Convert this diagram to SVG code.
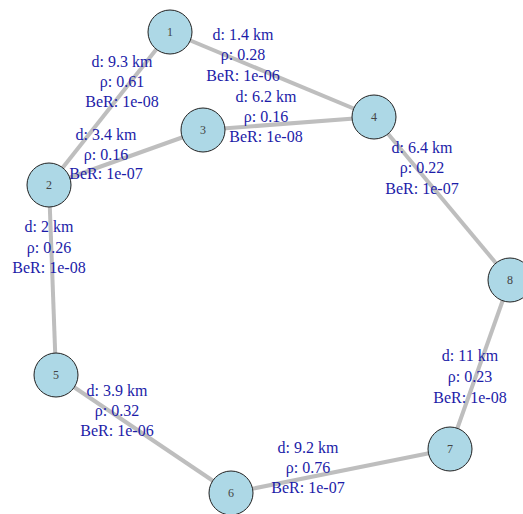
<svg xmlns="http://www.w3.org/2000/svg" width="523" height="514" viewBox="0 0 523 514">
<style>
.e{stroke:#bebebe;stroke-width:4;fill:none}
.n circle{fill:#add8e6;stroke:#222;stroke-width:1}
.n text{font-family:"Liberation Serif",serif;font-size:12px;fill:#444;text-anchor:middle}
.l{font-family:"Liberation Serif",serif;font-size:16px;fill:#1c1ca8;text-anchor:middle}
</style>
<rect width="523" height="514" fill="#fff"/>
<g id="edges">
<line class="e" x1="170" y1="32" x2="49" y2="185"/>
<line class="e" x1="170" y1="32" x2="374" y2="117"/>
<line class="e" x1="49" y1="185" x2="203" y2="130"/>
<line class="e" x1="203" y1="130" x2="374" y2="117"/>
<line class="e" x1="374" y1="117" x2="510" y2="280"/>
<line class="e" x1="49" y1="185" x2="56" y2="375"/>
<line class="e" x1="56" y1="375" x2="231" y2="493"/>
<line class="e" x1="231" y1="493" x2="450" y2="449"/>
<line class="e" x1="450" y1="449" x2="510" y2="280"/>
</g>
<g id="edge-labels">
<text class="l" x="122" y="67">d: 9.3 km<tspan x="122" y="87">ρ: 0.61</tspan><tspan x="122" y="107">BeR: 1e-08</tspan></text>
<text class="l" x="243" y="40">d: 1.4 km<tspan x="243" y="60">ρ: 0.28</tspan><tspan x="243" y="81">BeR: 1e-06</tspan></text>
<text class="l" x="266" y="102">d: 6.2 km<tspan x="266" y="122">ρ: 0.16</tspan><tspan x="266" y="142">BeR: 1e-08</tspan></text>
<text class="l" x="106" y="140">d: 3.4 km<tspan x="106" y="160">ρ: 0.16</tspan><tspan x="106" y="179">BeR: 1e-07</tspan></text>
<text class="l" x="422" y="153">d: 6.4 km<tspan x="422" y="173">ρ: 0.22</tspan><tspan x="422" y="194">BeR: 1e-07</tspan></text>
<text class="l" x="49" y="232">d: 2 km<tspan x="49" y="253">ρ: 0.26</tspan><tspan x="49" y="273">BeR: 1e-08</tspan></text>
<text class="l" x="117" y="396">d: 3.9 km<tspan x="117" y="416">ρ: 0.32</tspan><tspan x="117" y="436">BeR: 1e-06</tspan></text>
<text class="l" x="308" y="453">d: 9.2 km<tspan x="308" y="473">ρ: 0.76</tspan><tspan x="308" y="493">BeR: 1e-07</tspan></text>
<text class="l" x="470" y="361">d: 11 km<tspan x="470" y="382">ρ: 0.23</tspan><tspan x="470" y="403">BeR: 1e-08</tspan></text>
</g>
<g id="node1" class="n"><circle cx="170" cy="32" r="22"/><text x="170" y="36">1</text></g>
<g id="node2" class="n"><circle cx="49" cy="185" r="22"/><text x="49" y="189">2</text></g>
<g id="node3" class="n"><circle cx="203" cy="130" r="22"/><text x="203" y="134">3</text></g>
<g id="node4" class="n"><circle cx="374" cy="117" r="22"/><text x="374" y="121">4</text></g>
<g id="node5" class="n"><circle cx="56" cy="375" r="22"/><text x="56" y="379">5</text></g>
<g id="node6" class="n"><circle cx="231" cy="493" r="22"/><text x="231" y="497">6</text></g>
<g id="node7" class="n"><circle cx="450" cy="449" r="22"/><text x="450" y="453">7</text></g>
<g id="node8" class="n"><circle cx="510" cy="280" r="22"/><text x="510" y="284">8</text></g>
</svg>
